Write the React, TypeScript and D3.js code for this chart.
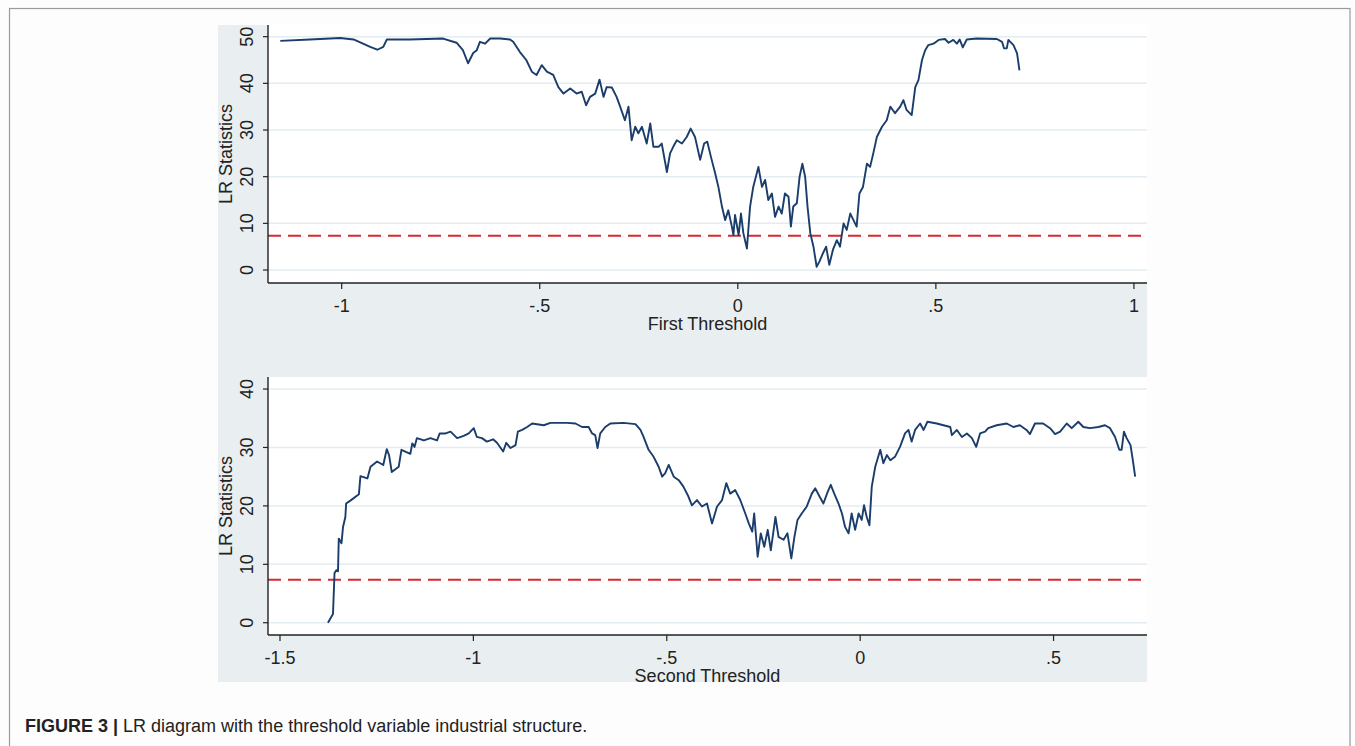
import React from "react";
import * as d3 from "d3";

// ---------- data ----------
const firstX = [-1.155,-1.08,-1.004,-0.97,-0.928,-0.91,-0.895,-0.886,-0.828,-0.744,-0.71,-0.694,-0.681,-0.668,-0.659,-0.651,-0.638,-0.625,-0.6,-0.575,-0.567,-0.55,-0.534,-0.52,-0.508,-0.495,-0.482,-0.466,-0.453,-0.44,-0.423,-0.407,-0.394,-0.383,-0.373,-0.36,-0.349,-0.339,-0.331,-0.318,-0.306,-0.297,-0.285,-0.276,-0.268,-0.259,-0.251,-0.242,-0.23,-0.221,-0.213,-0.2,-0.192,-0.179,-0.171,-0.163,-0.154,-0.141,-0.129,-0.119,-0.108,-0.095,-0.085,-0.077,-0.068,-0.057,-0.049,-0.04,-0.032,-0.024,-0.015,-0.011,-0.007,0.002,0.008,0.014,0.023,0.031,0.039,0.052,0.061,0.069,0.077,0.086,0.094,0.103,0.111,0.119,0.128,0.134,0.14,0.149,0.156,0.163,0.17,0.176,0.183,0.191,0.199,0.206,0.215,0.223,0.231,0.24,0.25,0.258,0.267,0.275,0.284,0.292,0.3,0.307,0.316,0.326,0.334,0.342,0.351,0.364,0.376,0.385,0.397,0.41,0.418,0.426,0.439,0.448,0.456,0.465,0.473,0.481,0.494,0.507,0.523,0.532,0.544,0.553,0.56,0.568,0.578,0.603,0.654,0.667,0.672,0.679,0.683,0.696,0.705,0.711];
const firstLR = [49.1,49.4,49.7,49.4,47.8,47.2,47.8,49.4,49.4,49.6,48.7,47.1,44.3,46.5,47.1,48.9,48.5,49.6,49.6,49.4,48.9,46.7,45.0,42.5,41.8,43.9,42.5,41.8,39.2,37.8,38.9,37.8,38.2,35.3,37.1,37.8,40.8,37.1,39.2,39.1,37.1,35.0,32.1,35.0,27.8,30.7,29.3,30.7,27.1,31.4,26.4,26.4,27.1,21.0,25.0,26.4,27.8,27.1,28.5,30.3,28.5,23.6,27.1,27.5,24.3,20.7,17.8,13.6,10.7,12.8,9.3,7.5,11.8,7.5,12.1,7.9,4.6,13.6,17.8,22.1,17.8,19.3,15.0,16.4,11.4,13.6,12.1,16.4,15.7,9.3,13.6,14.3,20.0,22.8,20.0,13.6,7.9,5.0,0.7,1.8,3.6,5.0,1.1,4.3,6.4,5.0,10.0,8.6,12.1,10.7,9.3,16.4,17.8,22.8,22.1,25.0,28.5,30.7,32.1,35.0,33.6,35.0,36.4,34.3,33.2,39.2,40.7,45.0,47.1,48.2,48.5,49.3,49.5,48.7,49.3,48.5,49.4,47.7,49.4,49.6,49.5,48.9,47.5,47.5,49.3,48.2,46.4,42.8];

const secondX = [-1.376,-1.363,-1.359,-1.354,-1.35,-1.348,-1.341,-1.337,-1.331,-1.329,-1.318,-1.296,-1.292,-1.274,-1.266,-1.249,-1.233,-1.224,-1.218,-1.211,-1.193,-1.186,-1.163,-1.158,-1.152,-1.146,-1.128,-1.111,-1.094,-1.087,-1.072,-1.059,-1.042,-1.025,-1.012,-0.999,-0.991,-0.978,-0.965,-0.949,-0.939,-0.923,-0.915,-0.904,-0.891,-0.885,-0.874,-0.861,-0.848,-0.818,-0.801,-0.758,-0.736,-0.719,-0.702,-0.693,-0.685,-0.679,-0.672,-0.659,-0.646,-0.612,-0.581,-0.568,-0.56,-0.547,-0.534,-0.521,-0.512,-0.504,-0.495,-0.482,-0.469,-0.457,-0.444,-0.435,-0.422,-0.409,-0.396,-0.383,-0.37,-0.357,-0.346,-0.336,-0.323,-0.31,-0.297,-0.288,-0.279,-0.274,-0.265,-0.257,-0.248,-0.239,-0.231,-0.219,-0.211,-0.198,-0.188,-0.178,-0.17,-0.162,-0.151,-0.138,-0.125,-0.116,-0.105,-0.095,-0.084,-0.076,-0.067,-0.056,-0.047,-0.039,-0.03,-0.022,-0.013,-0.004,0.004,0.01,0.017,0.024,0.03,0.039,0.052,0.06,0.069,0.078,0.09,0.103,0.116,0.125,0.133,0.142,0.155,0.164,0.174,0.198,0.233,0.237,0.25,0.263,0.276,0.289,0.3,0.31,0.323,0.331,0.353,0.379,0.396,0.413,0.43,0.439,0.452,0.473,0.491,0.504,0.517,0.534,0.547,0.564,0.577,0.594,0.616,0.633,0.646,0.659,0.67,0.676,0.682,0.689,0.699,0.705,0.711];
const secondLR = [0.0,1.5,8.5,9.0,8.8,14.4,13.6,16.4,18.1,20.4,20.9,22.0,25.1,24.7,26.7,27.6,27.0,29.7,28.7,25.8,26.7,29.6,28.9,30.7,30.1,31.6,31.2,31.6,31.2,32.4,32.4,32.7,31.6,32.0,32.4,33.3,31.8,31.6,31.0,31.4,30.8,29.3,30.8,29.9,30.4,32.7,33.0,33.5,34.1,33.8,34.2,34.2,34.1,33.5,33.5,32.4,32.1,29.9,32.4,33.5,34.1,34.2,34.0,33.0,31.8,29.6,28.4,26.7,25.0,25.6,27.0,25.0,24.4,23.3,21.6,20.1,21.0,19.9,20.4,17.0,19.9,21.0,23.9,22.1,22.7,21.0,18.7,17.0,15.6,18.7,11.3,15.3,13.0,15.9,12.4,18.1,14.7,14.2,15.3,11.0,14.7,17.6,18.7,19.9,22.1,23.0,21.6,20.4,22.4,23.6,22.1,20.4,18.7,16.4,15.3,18.7,15.9,18.7,17.6,20.1,18.1,16.7,23.3,26.7,29.6,27.3,28.7,27.8,28.4,30.1,32.4,33.0,31.0,33.0,34.1,33.0,34.4,34.1,33.5,32.1,33.0,31.8,32.4,31.6,30.1,32.4,32.7,33.3,33.8,34.1,33.5,33.8,33.0,32.3,34.1,34.1,33.3,32.3,32.7,34.1,33.3,34.4,33.5,33.3,33.5,33.8,33.3,31.8,29.6,29.6,32.7,31.6,30.4,27.8,25.0];

const criticalValue = 7.35;

const topXTicks = [-1, -0.5, 0, 0.5, 1];
const topXLabels = ["-1", "-.5", "0", ".5", "1"];
const topYTicks = [0, 10, 20, 30, 40, 50];
const botXTicks = [-1.5, -1, -0.5, 0, 0.5];
const botXLabels = ["-1.5", "-1", "-.5", "0", ".5"];
const botYTicks = [0, 10, 20, 30, 40];

const caption = "LR diagram with the threshold variable industrial structure.";

// ---------- styling ----------
const FONT = "'Liberation Sans', Arial, Helvetica, sans-serif";
const LINE = "#1a3d6b";
const RED = "#d62a2f";
const GRID = "#e3ecf1";
const PANEL = "#e9eff1";

type PanelProps = {
  xs: number[];
  ys: number[];
  xDomain: [number, number];
  yDomain: [number, number];
  top: number;
  plotBottom: number;
  panelBottom: number;
  xTicks: number[];
  xLabels: string[];
  yTicks: number[];
  xTitle: string;
};

function Panel(p: PanelProps) {
  const left = 218;
  const plotLeft = 268;
  const right = 1147;
  const x = d3.scaleLinear().domain(p.xDomain).range([plotLeft, right]);
  const y = d3.scaleLinear().domain(p.yDomain).range([p.plotBottom, p.top]);
  const pts: [number, number][] = p.xs.map((v, i) => [v, p.ys[i]]);
  const line = d3
    .line<[number, number]>()
    .x((d) => x(d[0]))
    .y((d) => y(d[1]));
  const midY = (p.top + p.plotBottom) / 2;
  return (
    <g>
      <rect x={left} y={p.top} width={right - left} height={p.panelBottom - p.top} fill={PANEL} />
      <rect x={plotLeft} y={p.top} width={right - plotLeft} height={p.plotBottom - p.top} fill="#ffffff" />
      {p.yTicks.map((t) => (
        <line key={"g" + t} x1={plotLeft} x2={right} y1={y(t)} y2={y(t)} stroke={GRID} strokeWidth={1.5} />
      ))}
      <line
        x1={plotLeft}
        x2={right}
        y1={y(criticalValue)}
        y2={y(criticalValue)}
        stroke={RED}
        strokeWidth={2}
        strokeDasharray="13 7"
      />
      <path d={line(pts) || ""} fill="none" stroke={LINE} strokeWidth={1.9} strokeLinejoin="round" />
      {/* axes */}
      <line x1={plotLeft} x2={plotLeft} y1={p.top} y2={p.plotBottom} stroke="#222" strokeWidth={1.4} />
      <line x1={plotLeft} x2={right} y1={p.plotBottom} y2={p.plotBottom} stroke="#222" strokeWidth={1.4} />
      {p.yTicks.map((t) => (
        <g key={"y" + t}>
          <line x1={plotLeft - 5} x2={plotLeft} y1={y(t)} y2={y(t)} stroke="#222" strokeWidth={1.2} />
          <text
            transform={`translate(${plotLeft - 15},${y(t)}) rotate(-90)`}
            textAnchor="middle"
            fontFamily={FONT}
            fontSize={18}
            fill="#222"
          >
            {t}
          </text>
        </g>
      ))}
      {p.xTicks.map((t, i) => (
        <g key={"x" + t}>
          <line x1={x(t)} x2={x(t)} y1={p.plotBottom} y2={p.plotBottom + 6} stroke="#222" strokeWidth={1.2} />
          <text x={x(t)} y={p.plotBottom + 29} textAnchor="middle" fontFamily={FONT} fontSize={18} fill="#222">
            {p.xLabels[i]}
          </text>
        </g>
      ))}
      <text
        transform={`translate(232,${midY}) rotate(-90)`}
        textAnchor="middle"
        fontFamily={FONT}
        fontSize={18}
        fill="#222"
      >
        LR Statistics
      </text>
      <text x={(plotLeft + right) / 2} y={p.plotBottom + 47} textAnchor="middle" fontFamily={FONT} fontSize={18} fill="#222">
        {p.xTitle}
      </text>
    </g>
  );
}

export default function App() {
  return (
    <svg
      width={1355}
      height={746}
      style={{ position: "absolute", left: 0, top: 0, background: "#fdfdfd" }}
    >
      <rect x={9.5} y={8.5} width={1340.5} height={760} fill="#fdfdfd" stroke="#9a9a9a" strokeWidth={1.2} />
      <Panel
        xs={firstX}
        ys={firstLR}
        xDomain={[-1.186, 1.033]}
        yDomain={[-2.78, 52.5]}
        top={25}
        plotBottom={283}
        panelBottom={377}
        xTicks={topXTicks}
        xLabels={topXLabels}
        yTicks={topYTicks}
        xTitle="First Threshold"
      />
      <Panel
        xs={secondX}
        ys={secondLR}
        xDomain={[-1.531, 0.7416]}
        yDomain={[-2.1, 42.06]}
        top={377}
        plotBottom={635}
        panelBottom={682}
        xTicks={botXTicks}
        xLabels={botXLabels}
        yTicks={botYTicks}
        xTitle="Second Threshold"
      />
      <text x={25} y={732} fontFamily="'Liberation Sans Narrow', 'Liberation Sans', Arial, sans-serif" fontSize={18} fill="#222">
        <tspan fontWeight="bold">FIGURE 3 |</tspan>
        <tspan dx={5}>{caption}</tspan>
      </text>
    </svg>
  );
}
